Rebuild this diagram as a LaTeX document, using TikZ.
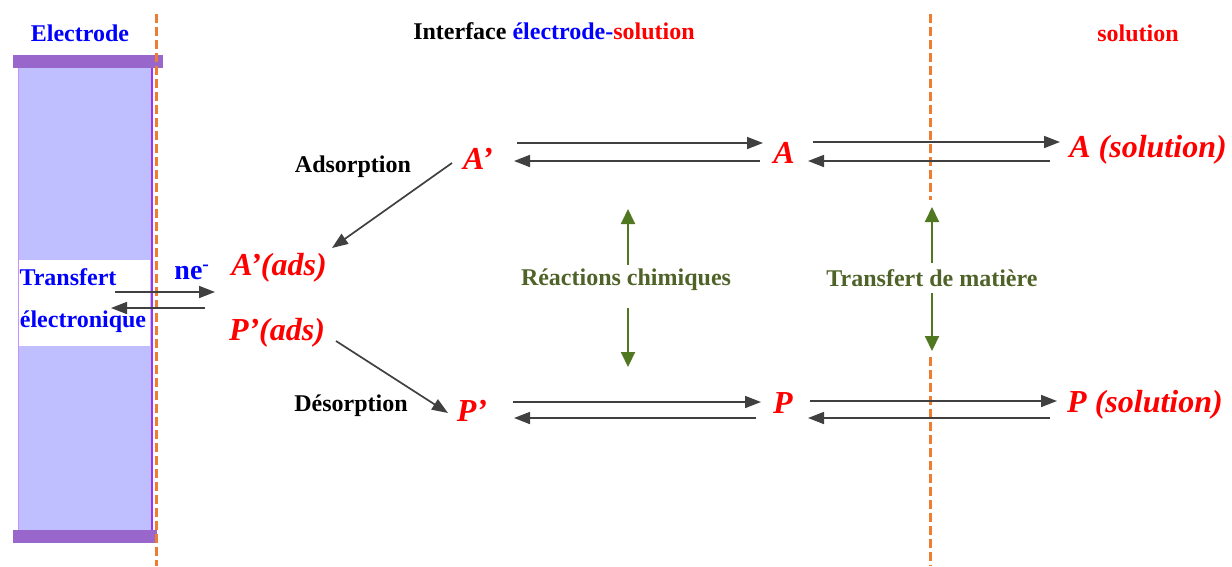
\documentclass[tikz,border=0pt]{standalone}
\usepackage{fontspec}
\setmainfont{Liberation Serif}
\usetikzlibrary{arrows.meta}
\definecolor{orangeD}{RGB}{237,125,49}
\definecolor{lav}{RGB}{191,191,255}
\definecolor{barP}{RGB}{153,102,204}
\definecolor{edgeP}{RGB}{153,51,255}
\definecolor{arrG}{RGB}{64,64,64}
\definecolor{grn}{RGB}{79,120,32}
\definecolor{oliveT}{RGB}{79,98,40}
\begin{document}
\begin{tikzpicture}[x=1pt,y=-1pt,
  lbl/.style={font=\bfseries\fontsize{24}{28}\selectfont, inner sep=0pt},
  spec/.style={font=\bfseries\itshape\fontsize{32}{36}\selectfont, text=red, inner sep=0pt},
  arr/.style={draw=arrG, line width=1.7pt, -{Triangle[length=16pt,width=12pt]}},
  garr/.style={draw=grn, line width=2pt, -{Triangle[length=15pt,width=14pt]}},
  sep/.style={draw=orangeD, line width=3pt, dash pattern=on 9pt off 4pt}]
\useasboundingbox (0,0) rectangle (1232,566);
% electrode
\fill[lav] (18,60) rectangle (152,530);
\fill[white] (18,260) rectangle (150,346);
\draw[edgeP!55, line width=1pt] (18,60) -- (18,530);
\draw[edgeP, line width=1.2pt] (152,62) -- (152,530);
\fill[barP] (13,55) rectangle (163,68);
\fill[barP] (13,530) rectangle (157,543);
% separators
\draw[sep] (156,14) -- (156,566);
\draw[sep] (930,14) -- (930,200);
\draw[sep] (930,357) -- (930,566);
% headers
\node[lbl,text=blue] (electrode) at (80,33) {Electrode};
\node[lbl] (interface) at (554,31) {Interface \textcolor{blue}{électrode-}\textcolor{red}{solution}};
\node[lbl,text=red] (solution) at (1138,33) {solution};
% electrode labels
\node[lbl,text=blue] (transfert) at (68,277) {Transfert};
\node[lbl,text=blue] (electronique) at (83,322) {électronique};
\node[font=\bfseries\fontsize{28}{32}\selectfont, text=blue, inner sep=0pt] (ne) at (192,272) {ne\textsuperscript{-}};
% species
\node[spec] (Ap) at (478,159) {A’};
\node[spec] (A) at (784,153) {A};
\node[spec] (Asol) at (1148,150) {A (solution)};
\node[spec] (Aads) at (279,268) {A’(ads)};
\node[spec] (Pads) at (277,333) {P’(ads)};
\node[spec] (Pp) at (472,411) {P’};
\node[spec] (P) at (783,403) {P};
\node[spec] (Psol) at (1145,405) {P (solution)};
% process labels
\node[lbl] (ads) at (353,167) {Adsorption};
\node[lbl] (des) at (351,406) {Désorption};
\node[lbl,text=oliveT] (reac) at (626,280) {Réactions chimiques};
\node[lbl,text=oliveT] (tm) at (932,278) {Transfert de matière};
% coordinates for arrows
\coordinate (a1s) at (517,143); \coordinate (a1e) at (763,143);
\coordinate (a2s) at (760,161); \coordinate (a2e) at (514,161);
\coordinate (b1s) at (813,142); \coordinate (b1e) at (1060,142);
\coordinate (b2s) at (1050,161); \coordinate (b2e) at (808,161);
\coordinate (c1s) at (513,402); \coordinate (c1e) at (761,402);
\coordinate (c2s) at (756,418); \coordinate (c2e) at (514,418);
\coordinate (d1s) at (810,401); \coordinate (d1e) at (1057,401);
\coordinate (d2s) at (1050,418); \coordinate (d2e) at (808,418);
\coordinate (e1s) at (115,292); \coordinate (e1e) at (215,292);
\coordinate (e2s) at (205,308); \coordinate (e2e) at (111,308);
\coordinate (adss) at (452,163); \coordinate (adse) at (332,248);
\coordinate (dess) at (336,341); \coordinate (dese) at (448,413);
\coordinate (r1s) at (628,265); \coordinate (r1e) at (628,209);
\coordinate (r2s) at (628,308); \coordinate (r2e) at (628,367);
\coordinate (t1s) at (932,263); \coordinate (t1e) at (932,207);
\coordinate (t2s) at (932,293); \coordinate (t2e) at (932,351);
% arrows
\draw[arr] (a1s) -- (a1e);
\draw[arr] (a2s) -- (a2e);
\draw[arr] (b1s) -- (b1e);
\draw[arr] (b2s) -- (b2e);
\draw[arr] (c1s) -- (c1e);
\draw[arr] (c2s) -- (c2e);
\draw[arr] (d1s) -- (d1e);
\draw[arr] (d2s) -- (d2e);
\draw[arr] (e1s) -- (e1e);
\draw[arr] (e2s) -- (e2e);
\draw[arr] (adss) -- (adse);
\draw[arr] (dess) -- (dese);
\draw[garr] (r1s) -- (r1e);
\draw[garr] (r2s) -- (r2e);
\draw[garr] (t1s) -- (t1e);
\draw[garr] (t2s) -- (t2e);
\end{tikzpicture}
\end{document}
